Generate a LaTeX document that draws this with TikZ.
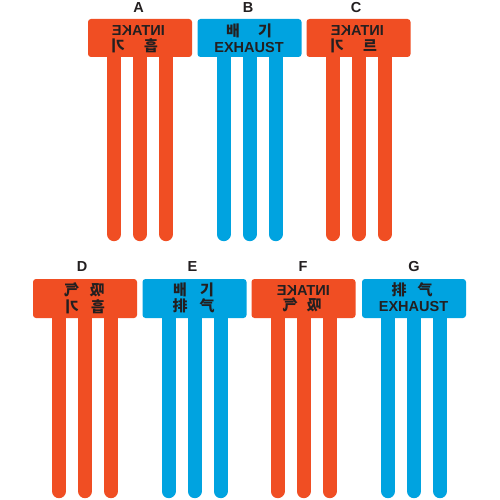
\documentclass[tikz,border=0pt]{standalone}
\usepackage{fontspec}
\usepackage{graphicx}
\setmainfont{Liberation Sans}
\newfontfamily\krfont{Noto Sans CJK KR}
\newfontfamily\zhfont{Noto Sans CJK SC}
\definecolor{intake}{HTML}{F04E23}
\definecolor{exhaust}{HTML}{00A3E0}
\definecolor{inkc}{HTML}{231F20}
\tikzset{
  tabbox/.style={fill=#1, draw=none, rounded corners=3pt, minimum width=104pt, inner sep=0pt},
  prong/.style={draw=#1, line width=14pt, line cap=round},
  letter/.style={font=\bfseries\fontsize{14.5}{17}\selectfont, text=inkc, inner sep=0pt},
  lat/.style={font=\bfseries\fontsize{14.5}{16}\selectfont, text=inkc, inner sep=0pt},
  kr/.style={font=\krfont\bfseries\fontsize{15}{17}\selectfont, text=inkc, inner sep=0pt, text height=11.5pt, text depth=1pt},
  zh/.style={font=\zhfont\bfseries\fontsize{15}{17}\selectfont, text=inkc, inner sep=0pt, text height=11.5pt, text depth=1pt},
}
\begin{document}
\begin{tikzpicture}[x=1pt,y=-1pt]
\useasboundingbox (0,0) rectangle (500,500);
\fill[white] (0,0) rectangle (500,500);

% ---- tabs, top row
\node[tabbox=intake, minimum height=38pt] (tA) at (140,38) {};
\node[tabbox=exhaust, minimum height=38pt] (tB) at (249.5,38) {};
\node[tabbox=intake, minimum height=38pt] (tC) at (358.5,38) {};
% ---- tabs, bottom row
\node[tabbox=intake, minimum height=39pt] (tD) at (85,298.5) {};
\node[tabbox=exhaust, minimum height=39pt] (tE) at (194.5,298.5) {};
\node[tabbox=intake, minimum height=39pt] (tF) at (303.5,298.5) {};
\node[tabbox=exhaust, minimum height=39pt] (tG) at (414,298.5) {};

% ---- prongs
\foreach \t/\c in {tA/intake,tB/exhaust,tC/intake}{
  \foreach \dx in {-26,0,26}{
    \draw[prong=\c] ([xshift=\dx pt]\t.south) -- ++(0,177);
  }
}
\foreach \t/\c in {tD/intake,tE/exhaust,tF/intake,tG/exhaust}{
  \foreach \dx in {-26,0,26}{
    \draw[prong=\c] ([xshift=\dx pt]\t.south) -- ++(0,173);
  }
}

% ---- letters
\node[letter] (lA) at (138.5,8) {A};
\node[letter] (lB) at (248,8) {B};
\node[letter] (lC) at (356,8) {C};
\node[letter] (lD) at (82,267) {D};
\node[letter] (lE) at (192.5,267) {E};
\node[letter] (lF) at (303,267) {F};
\node[letter] (lG) at (414,267) {G};

% ---- A
\node[lat] (A1) at (138.5,31) {\reflectbox{INTAKE}};
\node[kr] (A2) at (118,46.5) {\reflectbox{기}};
\node[kr] (A3) at (151,46.5) {\reflectbox{흡}};
% ---- B
\node[kr] (B1) at (233,31) {배};
\node[kr] (B2) at (265,31) {기};
\node[lat] (B3) at (249,48) {EXHAUST};
% ---- C
\node[lat] (C1) at (357.5,31) {\reflectbox{INTAKE}};
\node[kr] (C2) at (337,46.5) {\reflectbox{기}};
\node[kr] (C3) at (370,46.5) {르};
% ---- D
\node[zh] (D1) at (71.5,290) {\reflectbox{气}};
\node[zh] (D2) at (97,290) {\reflectbox{吸}};
\node[kr] (D3) at (72,307) {\reflectbox{기}};
\node[kr] (D4) at (98,307) {\reflectbox{흡}};
% ---- E
\node[kr] (E1) at (180,290) {배};
\node[kr] (E2) at (207,290) {기};
\node[zh] (E3) at (180,306.5) {排};
\node[zh] (E4) at (207,306.5) {气};
% ---- F
\node[lat] (F1) at (303.5,290.5) {\reflectbox{INTAKE}};
\node[zh] (F2) at (290,305.5) {\reflectbox{气}};
\node[zh] (F3) at (314,305.5) {\reflectbox{吸}};
% ---- G
\node[zh] (G1) at (399,290.5) {排};
\node[zh] (G2) at (425,290.5) {气};
\node[lat] (G3) at (413.5,307) {EXHAUST};
\end{tikzpicture}
\end{document}
